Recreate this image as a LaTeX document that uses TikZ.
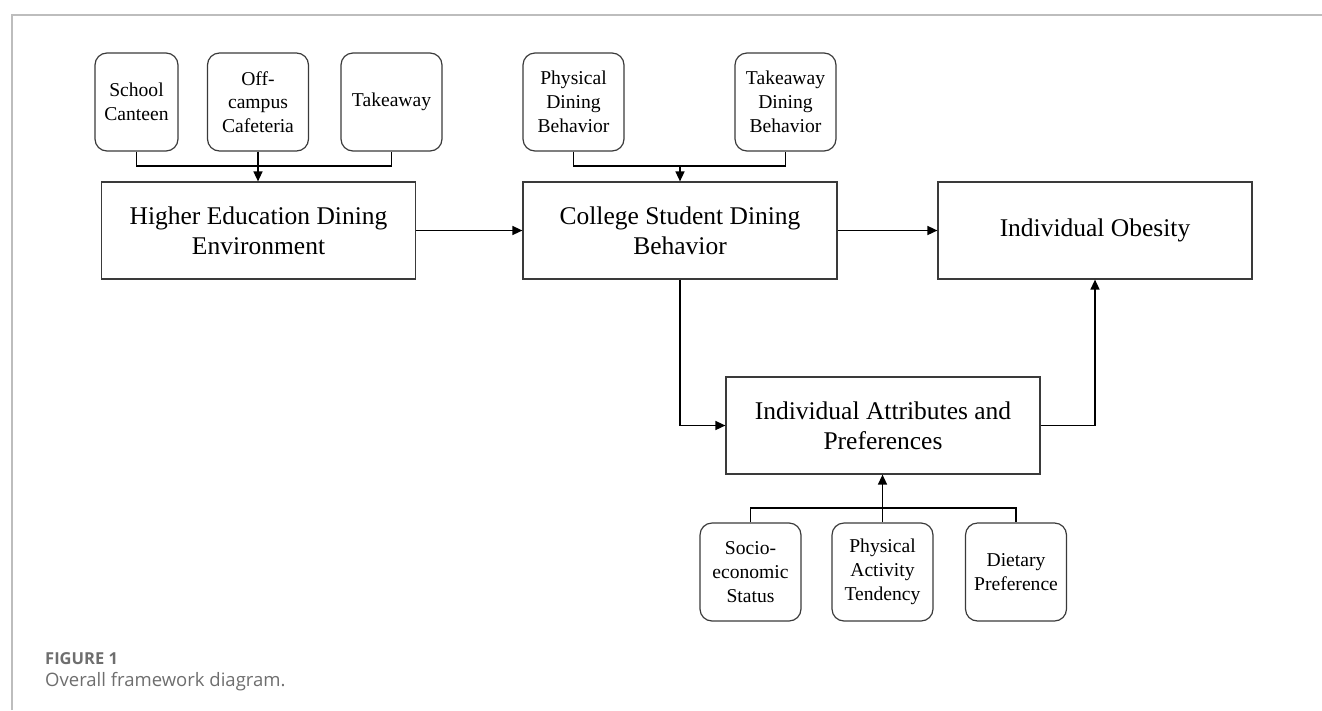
\documentclass[tikz,border=0pt]{standalone}
\usepackage{fontspec}
\setmainfont{Liberation Serif}
\newfontfamily\fuentePie{Open Sans}
\usetikzlibrary{arrows.meta}
\definecolor{marcoGris}{HTML}{BDBDBD}
\definecolor{bordeCaja}{HTML}{3A3A3A}
\definecolor{textoPie}{HTML}{6E6E6E}

\begin{document}
\begin{tikzpicture}[x=1pt, y=-1pt,
    >={Triangle[length=10pt,width=9pt]},
    cajaGrande/.style={draw=bordeCaja, line width=1.2pt, inner sep=0pt,
      minimum width=314pt, minimum height=97pt, align=center,
      font=\fontsize{25.5}{30}\selectfont},
    cajita/.style={draw=bordeCaja, line width=1.2pt, inner sep=0pt,
      rounded corners=12pt, minimum width=101pt, minimum height=98pt,
      align=center, font=\fontsize{19.6}{23.8}\selectfont},
    conector/.style={black, line width=1.5pt}]

  \useasboundingbox (0,0) rectangle (1322,710);

  \def\YA{102}    % fila de cajitas arriba
  \def\YB{230.5}  % fila de cajas grandes
  \def\YC{425.5}  % atributos
  \def\YD{572}    % cajitas abajo

  % ── Marco ─────────────────────────────────────────────────
  \draw[marcoGris, line width=2pt] (12,710) -- (12,15) -- (1322,15);

  % ── Cajitas de arriba ─────────────────────────────────────
  \node[cajita, minimum width=83pt] (sch) at (136.5,\YA) {School\\Canteen};
  \node[cajita] (off) at (258,\YA) {Off-\\campus\\Cafeteria};
  \node[cajita] (tak) at (391.5,\YA) {Takeaway};
  \node[cajita] (phy) at (573.5,\YA) {Physical\\Dining\\Behavior};
  \node[cajita] (tkd) at (785.5,\YA) {Takeaway\\Dining\\Behavior};

  % ── Cajas grandes ─────────────────────────────────────────
  \node[cajaGrande] (hede) at (258.5,\YB) {Higher Education Dining\\Environment};
  \node[cajaGrande] (csdb) at (680,\YB) {College Student Dining\\Behavior};
  \node[cajaGrande] (obes) at (1095,\YB) {Individual Obesity};
  \node[cajaGrande] (iap) at (883,\YC) {Individual Attributes and\\Preferences};

  % ── Cajitas de abajo ──────────────────────────────────────
  \node[cajita] (soc) at (750.5,\YD) {Socio-\\economic\\Status};
  \node[cajita] (pat) at (882.5,\YD) {Physical\\Activity\\Tendency};
  \node[cajita] (diet) at (1016,\YD) {Dietary\\Preference};

  % ── Buses ─────────────────────────────────────────────────
  \coordinate (busA) at (0,166);
  \coordinate (busB) at (0,166);
  \coordinate (busC) at (0,508);

  \draw[conector] (sch.south) -- (sch.south |- busA) -| (tak.south);
  \draw[conector,->] (off.south) -- (off.south |- hede.north);

  \draw[conector] (phy.south) -- (phy.south |- busB) -| (tkd.south);
  \draw[conector,->] (csdb.north |- busB) -- (csdb.north);

  \draw[conector] (soc.north) -- (soc.north |- busC) -| (diet.north);
  \draw[conector,->] (pat.north) -- (pat.north |- iap.south);

  % ── Flechas principales ───────────────────────────────────
  \draw[conector,->] (hede.east) -- (csdb.west);
  \draw[conector,->] (csdb.east) -- (obes.west);
  \draw[conector,->] (csdb.south) |- (iap.west);
  \draw[conector,->] (iap.east) -| (obes.south);

  % ── Pie de figura ─────────────────────────────────────────
  \node[anchor=base west, inner sep=0pt, text=textoPie,
        font=\fuentePie\bfseries\fontsize{16.5}{19}\selectfont]
    (figlbl) at (45,664) {FIGURE 1};
  \node[anchor=base west, inner sep=0pt, text=textoPie,
        font=\fuentePie\fontsize{18.5}{22}\selectfont]
    (figcap) at (45,686) {Overall framework diagram.};

\end{tikzpicture}
\end{document}
